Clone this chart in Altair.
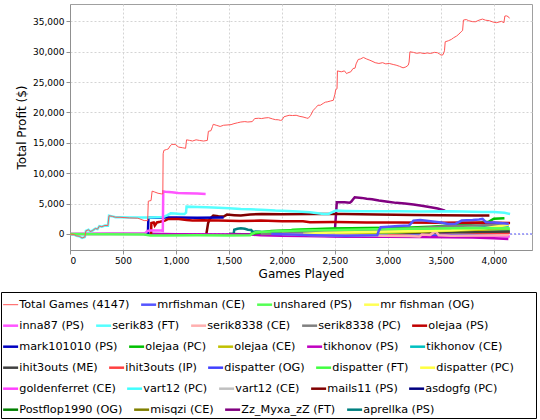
import altair as alt
import pandas as pd

# ---------------- data ----------------
TOTAL_X = [0, 40, 60, 90, 114, 140, 150, 175, 190, 212, 240, 260, 277, 300, 330, 358, 368, 400, 430, 472,
           510, 560, 640, 670, 700, 733, 739, 765, 775, 800, 831, 863, 876, 879, 886, 910, 928, 945, 961, 993,
           1010, 1026, 1060, 1091, 1100, 1130, 1156, 1190, 1221, 1260, 1296, 1306, 1330, 1345, 1352, 1380, 1417,
           1450, 1482, 1520, 1547, 1580, 1612, 1650, 1678, 1720, 1743, 1780, 1808, 1840, 1873, 1910, 1938, 1965,
           1987, 2000, 2020, 2068, 2100, 2134, 2170, 2199, 2230, 2248, 2270, 2296, 2320, 2340, 2362, 2390, 2410,
           2427, 2460, 2485, 2500, 2508, 2520, 2524, 2560, 2590, 2610, 2622, 2650, 2671, 2690, 2700, 2720, 2740,
           2769, 2800, 2830, 2850, 2880, 2915, 2950, 2980, 3013, 3050, 3078, 3110, 3143, 3170, 3192, 3200, 3208,
           3240, 3270, 3306, 3340, 3370, 3404, 3440, 3469, 3490, 3502, 3520, 3534, 3541, 3570, 3599, 3620, 3648,
           3670, 3691, 3705, 3713, 3740, 3762, 3800, 3827, 3860, 3893, 3920, 3958, 3990, 4023, 4050, 4072, 4095,
           4104, 4120, 4137, 4147]
TOTAL_Y = [0, -100, -300, -400, -660, -500, 500, 700, 400, 550, 900, 800, 1300, 1200, 1400, 1380, 3000, 2900,
           2750, 2750, 2700, 2640, 2600, 2400, 2200, 2200, 5400, 5500, 7050, 6900, 6700, 6600, 6600, 13200, 13760,
           13900, 14000, 14500, 14750, 14750, 14500, 14300, 14200, 14100, 15500, 15400, 15300, 15500, 15400, 15300,
           15400, 16900, 17000, 17700, 18050, 17900, 17700, 17900, 17940, 18000, 18160, 18300, 18430, 18500, 18430,
           18500, 19000, 19050, 19000, 19100, 19150, 18950, 18820, 18800, 18700, 18750, 19300, 19540, 19500, 19540,
           19350, 19260, 19100, 19040, 19500, 20360, 20800, 21200, 21190, 21500, 21700, 21740, 21900, 22010, 23000,
           23770, 23900, 26850, 26700, 26850, 26400, 26520, 26700, 27240, 27300, 28000, 28730, 28800, 29060, 28800,
           28600, 28450, 28200, 28070, 28200, 28000, 28070, 27900, 27790, 27600, 27350, 27500, 27790, 28300, 29990,
           29900, 29750, 29830, 29700, 29800, 29720, 29900, 29830, 29600, 29440, 29500, 30160, 31640, 31800, 32030,
           32300, 32580, 32900, 33290, 33500, 35220, 35300, 35110, 34950, 34940, 35200, 35380, 35200, 35110, 34900,
           34780, 34900, 35000, 34780, 35880, 35900, 35770, 35500]

MRFISHMAN_CE_X = [1900, 2100, 2300, 2600, 2900, 2915, 2932, 3000, 3100, 3200, 3208, 3241, 3306, 3404, 3500, 3567,
                  3640, 3697, 3800, 3860, 3893, 3925, 4000, 4140]
MRFISHMAN_CE_Y = [0, -100, -200, -300, -200, 550, 1100, 1200, 1300, 1400, 1540, 2200, 2310, 2090, 1900, 1650,
                  1700, 2200, 2300, 2400, 2475, 1930, 1900, 1700]
UNSHARED_X = [0, 300, 700, 760, 900, 1200, 1500, 1700, 1750, 2000, 2300, 2600, 3000, 3400, 3800, 4150]
UNSHARED_Y = [0, -50, -100, -250, -250, -200, -250, -200, 300, 500, 600, 700, 800, 900, 1000, 900]
MR_FISHMAN_OG_X = [2200, 2400, 2700, 3000, 3300, 3600, 3900, 4140]
MR_FISHMAN_OG_Y = [0, 200, 300, 400, 500, 600, 900, 1500]

INNA87_X = [0, 700, 733, 760, 860, 876, 880, 900, 961, 1020, 1091, 1200, 1280]
INNA87_Y = [0, 0, 500, 550, 550, 500, 7000, 6950, 6870, 6750, 6700, 6650, 6600]
SERIK83_X = [0, 40, 60, 90, 114, 140, 150, 175, 190, 212, 240, 260, 277, 300, 330, 358, 368, 400, 430, 472, 560,
             640, 700, 760, 830, 880, 920, 950, 990, 1040, 1080, 1095, 1100, 1200, 1287, 1400, 1500, 1612, 1700,
             1800, 1938, 2050, 2150, 2264, 2394, 2440, 2508, 2600, 2750, 2915, 3100, 3300, 3567, 3700, 3893, 4000,
             4100, 4153]
SERIK83_Y = [0, -100, -300, -400, -660, -500, 500, 700, 400, 550, 900, 800, 1300, 1200, 1400, 1380, 3000, 2900,
             2750, 2750, 2700, 2700, 2700, 2700, 2750, 2800, 3100, 3400, 3350, 3300, 3300, 3500, 4500, 4450, 4400,
             4300, 4250, 4100, 4050, 4000, 3850, 3800, 3700, 3580, 3300, 3300, 3850, 3800, 3750, 3740, 3750, 3700,
             3740, 3700, 3630, 3600, 3500, 3300]
SERIK8338_CE_X = [2000, 2300, 2600, 3000, 3200, 3300, 3320, 3400, 3450, 3480, 3600, 3900, 4140]
SERIK8338_CE_Y = [0, -150, -250, -300, -350, -400, -100, -150, 500, -200, -300, -250, -200]
SERIK8338_PC_X = [1800, 2100, 2400, 2700, 3000, 3300, 3600, 3900, 4140]
SERIK8338_PC_Y = [0, 150, 400, 600, 700, 1000, 1300, 1450, 1500]
OLEJAA_PS_X = [765, 768, 790, 800, 820, 850, 896, 928, 1000, 1026, 1100, 1156, 1250, 1400, 1600, 1800, 2000,
               2199, 2264, 2500, 2800, 3100, 3500, 3800, 4000, 4153]
OLEJAA_PS_Y = [0, 1800, 1900, 1400, 1900, 2000, 2200, 2480, 2450, 2480, 2300, 2200, 2250, 2200, 2150, 2200, 2100,
               2090, 1930, 1950, 1900, 1900, 1850, 1900, 1850, 1820]

MARK101010_X = [700, 735, 740, 800, 900, 1000, 1200, 1450]
MARK101010_Y = [0, 0, 2650, 2650, 2700, 2700, 2650, 2700]
OLEJAA_PC_X = [1700, 1900, 2200, 2500, 2800, 3100, 3400, 3700, 3950, 4000, 4100]
OLEJAA_PC_Y = [0, 500, 700, 900, 1000, 1000, 1200, 1500, 2000, 2500, 2600]
OLEJAA_CE_X = [2500, 2800, 3100, 3400, 3700, 4000, 4140]
OLEJAA_CE_Y = [0, 200, 300, 450, 600, 800, 900]
TIKHONOV_PS_X = [0, 400, 740, 880, 1000, 1700, 1800, 2000, 2200, 2500, 2800, 3000, 3300, 3567, 3800, 4000, 4137]
TIKHONOV_PS_Y = [0, 50, 50, 0, -50, -100, -200, -300, -350, -400, -450, -450, -500, -550, -600, -700, -830]
TIKHONOV_CE_X = [2800, 3100, 3400, 3700, 3900, 4000, 4140]
TIKHONOV_CE_Y = [0, 300, 600, 900, 1100, 1200, 1300]

IHIT_ME_X = [1500, 1800, 2100, 2400, 2800, 3200, 3600, 4000, 4150]
IHIT_ME_Y = [0, -100, -50, 100, 150, 200, 300, 350, 400]
IHIT_IP_X = [3000, 3300, 3600, 3900, 4150]
IHIT_IP_Y = [0, 250, 350, 150, 200]
DISP_OG_X = [1800, 2100, 2400, 2600, 2800, 3000, 3300, 3600, 3900, 4150]
DISP_OG_Y = [0, -200, -300, -400, -350, -250, -300, -200, -100, 300]
DISP_FT_X = [2000, 2100, 2300, 2500, 2700, 2900, 3100, 3300, 3500, 3800, 4150]
DISP_FT_Y = [0, 700, 800, 850, 900, 1000, 700, 900, 1100, 900, 700]
DISP_PC_X = [3000, 3300, 3600, 3900, 4150]
DISP_PC_Y = [0, 300, 450, 700, 900]

GOLDEN_X = [3300, 3400, 3420, 3500, 3600, 3800, 4000, 4150]
GOLDEN_Y = [0, 0, 600, 300, -200, -300, -350, -400]
VART_PC_X = [2600, 2900, 3200, 3500, 3800, 4150]
VART_PC_Y = [0, 200, 300, 400, 500, 600]
VART_CE_X = [2800, 3100, 3400, 3700, 4000, 4150]
VART_CE_Y = [0, -100, 0, 200, 150, 100]
MAILS11_X = [1280, 1287, 1303, 1319, 1352, 1400, 1450, 1482, 1550, 1612, 1700, 1808, 2000, 2300, 2590, 2900,
             3241, 3500, 3827, 3958]
MAILS11_Y = [0, 0, 1760, 2475, 3020, 2900, 2860, 3190, 3100, 3030, 3200, 3300, 3250, 3300, 3300, 3200, 3140,
             3100, 3030, 3030]
ASDOGFG_X = [3600, 3800, 4000, 4150]
ASDOGFG_Y = [0, 200, 350, 500]

POSTFLOP_X = [1900, 2200, 2500, 2800, 3100, 3400, 3700, 4000, 4150]
POSTFLOP_Y = [0, 300, 400, 500, 800, 900, 700, 600, 500]
MISQZI_X = [2100, 2400, 2700, 3000, 3300, 3600, 3900, 4150]
MISQZI_Y = [0, 150, 200, 100, 200, 300, 250, 200]
ZZ_X = [1750, 1900, 2100, 2300, 2490, 2500, 2518, 2590, 2640, 2655, 2687, 2752, 2800, 2850, 2915, 3000, 3078,
        3160, 3241, 3320, 3404, 3470, 3540]
ZZ_Y = [0, -100, -150, -100, 200, 600, 5230, 5230, 5150, 5340, 6050, 5940, 5800, 5720, 5500, 5300, 5120, 5000,
        4840, 4650, 4400, 4200, 3850]
APRELLKA_X = [1500, 1545, 1550, 1580, 1612, 1650, 1680, 1710, 1720, 1800, 2200, 2600, 3000, 3400, 3800, 4150]
APRELLKA_Y = [0, 0, 700, 850, 935, 850, 700, 660, 400, 350, 300, 250, 400, 300, 400, 350]

# legend rows: (name, colour, x-list, y-list)
ROWS = [
    [("Total Games (4147)", "#FF5555", TOTAL_X, TOTAL_Y),
     ("mrfishman (CE)", "#5555FF", MRFISHMAN_CE_X, MRFISHMAN_CE_Y),
     ("unshared (PS)", "#55FF55", UNSHARED_X, UNSHARED_Y),
     ("mr fishman (OG)", "#FFFF55", MR_FISHMAN_OG_X, MR_FISHMAN_OG_Y)],
    [("inna87 (PS)", "#FF55FF", INNA87_X, INNA87_Y),
     ("serik83 (FT)", "#55FFFF", SERIK83_X, SERIK83_Y),
     ("serik8338 (CE)", "#FFAFAF", SERIK8338_CE_X, SERIK8338_CE_Y),
     ("serik8338 (PC)", "#808080", SERIK8338_PC_X, SERIK8338_PC_Y),
     ("olejaa (PS)", "#C00000", OLEJAA_PS_X, OLEJAA_PS_Y)],
    [("mark101010 (PS)", "#0000C0", MARK101010_X, MARK101010_Y),
     ("olejaa (PC)", "#00C000", OLEJAA_PC_X, OLEJAA_PC_Y),
     ("olejaa (CE)", "#C0C000", OLEJAA_CE_X, OLEJAA_CE_Y),
     ("tikhonov (PS)", "#C000C0", TIKHONOV_PS_X, TIKHONOV_PS_Y),
     ("tikhonov (CE)", "#00C0C0", TIKHONOV_CE_X, TIKHONOV_CE_Y)],
    [("ihit3outs (ME)", "#404040", IHIT_ME_X, IHIT_ME_Y),
     ("ihit3outs (IP)", "#FF4040", IHIT_IP_X, IHIT_IP_Y),
     ("dispatter (OG)", "#4040FF", DISP_OG_X, DISP_OG_Y),
     ("dispatter (FT)", "#40FF40", DISP_FT_X, DISP_FT_Y),
     ("dispatter (PC)", "#FFFF40", DISP_PC_X, DISP_PC_Y)],
    [("goldenferret (CE)", "#FF40FF", GOLDEN_X, GOLDEN_Y),
     ("vart12 (PC)", "#40FFFF", VART_PC_X, VART_PC_Y),
     ("vart12 (CE)", "#C0C0C0", VART_CE_X, VART_CE_Y),
     ("mails11 (PS)", "#800000", MAILS11_X, MAILS11_Y),
     ("asdogfg (PC)", "#000080", ASDOGFG_X, ASDOGFG_Y)],
    [("Postflop1990 (OG)", "#008000", POSTFLOP_X, POSTFLOP_Y),
     ("misqzi (CE)", "#808000", MISQZI_X, MISQZI_Y),
     ("Zz_Myxa_zZ (FT)", "#800080", ZZ_X, ZZ_Y),
     ("aprellka (PS)", "#008080", APRELLKA_X, APRELLKA_Y)],
]

X_TICKS = [0, 500, 1000, 1500, 2000, 2500, 3000, 3500, 4000]
Y_TICKS = [0, 5000, 10000, 15000, 20000, 25000, 30000, 35000]
X_DOMAIN = [0, 4360]
Y_DOMAIN = [-2640, 37860]

FONT = "DejaVu Sans"
TOTAL_NAME = "Total Games (4147)"

x_enc = alt.X("x:Q", scale=alt.Scale(domain=X_DOMAIN, nice=False, zero=False),
              axis=alt.Axis(values=X_TICKS, format=",.0f", title="Games Played"))
y_enc = alt.Y("y:Q", scale=alt.Scale(domain=Y_DOMAIN, nice=False, zero=False),
              axis=alt.Axis(values=Y_TICKS, format=",.0f", title="Total Profit ($)"))

ROW_Y0 = 295
ROW_STEP = 21

layers = []
# baseline at zero
zero_df = pd.DataFrame({"y": [0]})
layers.append(alt.Chart(zero_df).mark_rule(color="#6060FF", strokeDash=[2, 2], strokeWidth=1)
              .encode(y=alt.Y("y:Q", scale=alt.Scale(domain=Y_DOMAIN, nice=False, zero=False),
                              axis=alt.Axis(values=Y_TICKS, format=",.0f", title="Total Profit ($)"))))

# series layers: draw last legend row first so series 0 ends on top
for r in range(len(ROWS) - 1, -1, -1):
    row = ROWS[r]
    recs = []
    for name, col, xs, ys in reversed(row):
        for i, (xv, yv) in enumerate(zip(xs, ys)):
            recs.append({"series": name, "x": xv, "y": yv, "i": i})
    df = pd.DataFrame(recs)
    names = [s[0] for s in row]
    colors = [s[1] for s in row]
    leg_kwargs = dict(orient="none", legendX=-65, legendY=ROW_Y0 + r * ROW_STEP,
                      direction="horizontal", title=None,
                      symbolStrokeWidth=alt.ExprRef(
                          "datum.value === '%s' ? 1 : 2.5" % TOTAL_NAME))
    layer = alt.Chart(df).mark_line(clip=True).encode(
        x=x_enc, y=y_enc,
        color=alt.Color("series:N", scale=alt.Scale(domain=names, range=colors),
                        legend=alt.Legend(**leg_kwargs)),
        strokeWidth=alt.condition("datum.series === '%s'" % TOTAL_NAME, alt.value(1), alt.value(2.5)),
        order=alt.Order("i:Q"),
    )
    layers.append(layer)

# legend frame
frame_df = pd.DataFrame({"k": [0]})
layers.append(alt.Chart(frame_df).mark_rect(fill=None, stroke="black", strokeWidth=1).encode(
    x=alt.value(-68.5), x2=alt.value(466.5), y=alt.value(288.5), y2=alt.value(414.5)))

chart = alt.layer(*layers).resolve_scale(color="independent").properties(
    width=462, height=246,
    padding={"left": 70, "top": 4, "right": 8, "bottom": 170},
    autosize=alt.AutoSizeParams(type="none"),
    background="white",
).configure_view(stroke="#A0A0A0", strokeWidth=1).configure_axis(
    labelFont=FONT, labelFontSize=9, labelColor="#000000",
    titleFont=FONT, titleFontSize=12, titleFontWeight="normal", titleColor="#000000",
    domainColor="#909090", tickColor="#909090", tickSize=4, labelPadding=2,
    gridColor="#D4D4D4", gridDash=[2, 2], gridWidth=1,
).configure_axisY(titlePadding=4).configure_axisX(titlePadding=3).configure_legend(
    symbolType="stroke", symbolSize=225, labelFont=FONT,
    labelFontSize=11.25, labelColor="#000000", labelOffset=3, columnPadding=6, padding=0,
    labelLimit=0,
)

chart.save("out.html", embed_options={"renderer": "svg", "actions": False})
